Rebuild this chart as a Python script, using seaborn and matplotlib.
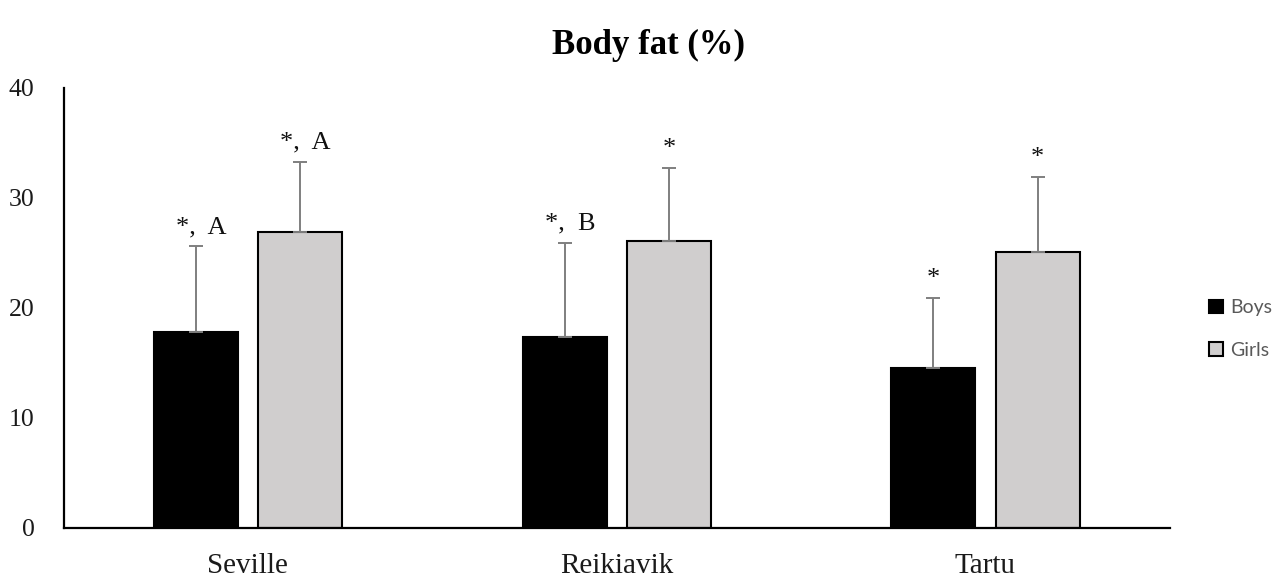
import numpy as np
import pandas as pd
import matplotlib
matplotlib.use("Agg")
import matplotlib.pyplot as plt
import seaborn as sns

# dane
cities = ["Seville", "Reikiavik", "Tartu"]
boys = [17.8, 17.4, 14.5]
girls = [26.9, 26.1, 25.1]
boys_sd = [7.8, 8.5, 6.4]
girls_sd = [6.4, 6.6, 6.8]
boys_notes = ["*, A", "*, B", "*"]
girls_notes = ["*, A", "*", "*"]
groups = ["Boys", "Girls"]
yticks = [0, 10, 20, 30, 40]

df = pd.DataFrame({
    "city": cities * 2,
    "group": ["Boys"] * 3 + ["Girls"] * 3,
    "fat": boys + girls,
})

sns.set_style("white")
plt.rcParams["font.family"] = ["Liberation Serif", "DejaVu Serif"]
plt.rcParams["text.color"] = "#111111"

fig = plt.figure(figsize=(12.76, 5.77), dpi=100)
ax = fig.add_axes([0.0498, 0.085, 0.867, 0.7625])

sns.barplot(data=df, x="city", y="fat", hue="group", order=cities,
            hue_order=groups, palette=["black", "#D0CECE"], width=0.566,
            gap=0.195, errorbar=None, edgecolor="black", linewidth=1.5,
            legend=False, ax=ax)

# słupki błędów (tylko w górę) i oznaczenia nad nimi
sds = [boys_sd, girls_sd]
notes = [boys_notes, girls_notes]
for cont, sd, nt in zip(ax.containers, sds, notes):
    xs = [p.get_x() + p.get_width() / 2 for p in cont]
    ys = [p.get_height() for p in cont]
    ax.errorbar(xs, ys, yerr=[np.zeros(len(sd)), sd], fmt="none",
                ecolor="#7f7f7f", elinewidth=1.4, capsize=5, capthick=1.4)
    for x, y, s, t in zip(xs, ys, sd, nt):
        ax.annotate(t.replace(", ", ",  "), (x, y + s),
                    xytext=(4 if "," in t else 0, 6),
                    textcoords="offset points", ha="center", va="bottom",
                    fontsize=19)

ax.set_xlim(-0.5, 2.5)
ax.set_ylim(0, 40)
ax.set_yticks(yticks)
ax.set_xlabel("")
ax.set_ylabel("")
ax.tick_params(axis="y", labelsize=18.5, pad=21, length=0)
ax.tick_params(axis="x", labelsize=21, pad=18, length=0)
for lab in ax.get_yticklabels() + ax.get_xticklabels():
    lab.set_color("#1a1a1a")
for side in ["top", "right"]:
    ax.spines[side].set_visible(False)
for side in ["left", "bottom"]:
    ax.spines[side].set_color("black")
    ax.spines[side].set_linewidth(1.6)

fig.suptitle("Body fat (%)", x=0.508, y=0.922, va="center",
             fontsize=25, fontweight="bold", color="black")

handles = [plt.Rectangle((0, 0), 1, 1, facecolor=c, edgecolor="black", linewidth=1.5)
           for c in ["black", "#D0CECE"]]
leg = fig.legend(handles, groups, loc="center left", bbox_to_anchor=(0.9475, 0.43),
                 frameon=False, borderpad=0, borderaxespad=0,
                 handlelength=0.7, handleheight=0.7,
                 handletextpad=0.4, labelspacing=1.3,
                 prop={"family": ["Lato", "DejaVu Sans"], "size": 14})
for t in leg.get_texts():
    t.set_color("#595959")

fig.savefig("out.png", dpi=100)
